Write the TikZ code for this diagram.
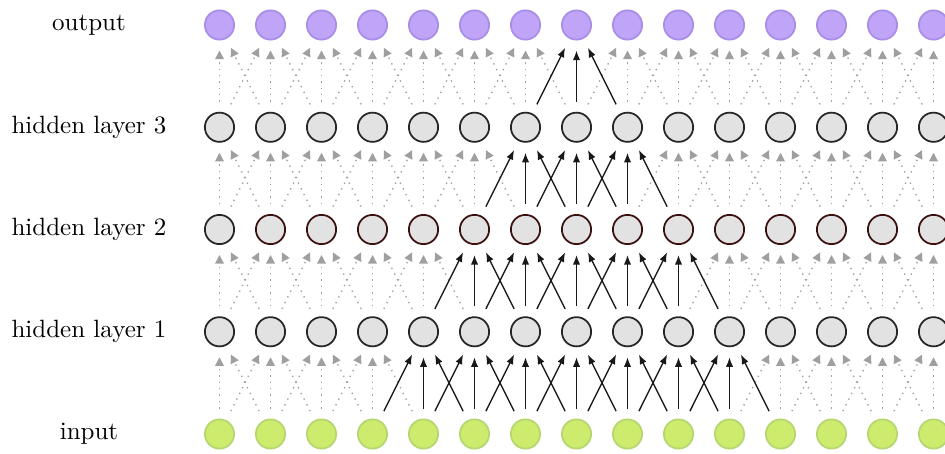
\documentclass[tikz,border=0pt]{standalone}
\usetikzlibrary{arrows.meta}
\definecolor{outfill}{HTML}{BFA4F7}
\definecolor{outdraw}{HTML}{A88EE6}
\definecolor{hidfill}{HTML}{E2E2E2}
\definecolor{hidtwo}{HTML}{3A1010}
\definecolor{infill}{HTML}{CDEB6C}
\definecolor{indraw}{HTML}{B6D672}
\begin{document}
\begin{tikzpicture}[x=0.4pt,y=-0.4pt,
  neuron/.style={circle,minimum size=11.7pt,inner sep=0pt,line width=0.7pt},
  outn/.style={neuron,fill=outfill,draw=outdraw},
  hidn/.style={neuron,fill=hidfill,draw=black!85},
  hidtwon/.style={neuron,fill=hidfill,draw=hidtwo},
  inn/.style={neuron,fill=infill,draw=indraw},
  conn/.style={gray!75,dotted,line width=0.55pt,-{Triangle[length=3.4pt,width=3.4pt]},shorten >=4pt,shorten <=4pt},
  act/.style={black!90,line width=0.55pt,-{Latex[length=3.8pt,width=2.9pt]},shorten >=4pt,shorten <=4pt}]
\useasboundingbox (0,0) rectangle (945,453);
% labels
\node (l4) at (89,25) {output};
\node (l3) at (89,127.25) {hidden layer 3};
\node (l2) at (89,229.5) {hidden layer 2};
\node (l1) at (89,331.75) {hidden layer 1};
\node (l0) at (89,434) {input};
% neurons
\foreach \r/\y/\st in {0/434/inn,1/331.75/hidn,3/127.25/hidn,4/25/outn}{
  \foreach \j in {1,...,15}{
    \node[\st] (n\r-\j) at ({219.5+51*(\j-1)},\y) {};
  }
}
\foreach \j in {1,...,15}{
  \ifnum\j=1 \def\sty{hidn}\else\def\sty{hidtwon}\fi
  \node[\sty] (n2-\j) at ({219.5+51*(\j-1)},229.5) {};
}
% gray connections
\foreach \t in {1,...,4}{
  \pgfmathtruncatemacro\s{\t-1}
  \foreach \j in {1,...,15}{
    \pgfmathtruncatemacro\blk{abs(\j-8)<=(4-\t)}
    \foreach \d in {-1,0,1}{
      \pgfmathtruncatemacro\k{\j+\d}
      \ifnum\k>0 \ifnum\k<16 \ifnum\blk=0
        \draw[conn] (n\s-\k) -- (n\t-\j);
      \fi\fi\fi
    }
  }
}
% active connections
\foreach \t in {1,...,4}{
  \pgfmathtruncatemacro\s{\t-1}
  \foreach \j in {1,...,15}{
    \pgfmathtruncatemacro\blk{abs(\j-8)<=(4-\t)}
    \foreach \d in {-1,0,1}{
      \pgfmathtruncatemacro\k{\j+\d}
      \ifnum\blk=1
        \draw[act] (n\s-\k) -- (n\t-\j);
      \fi
    }
  }
}
\end{tikzpicture}
\end{document}
